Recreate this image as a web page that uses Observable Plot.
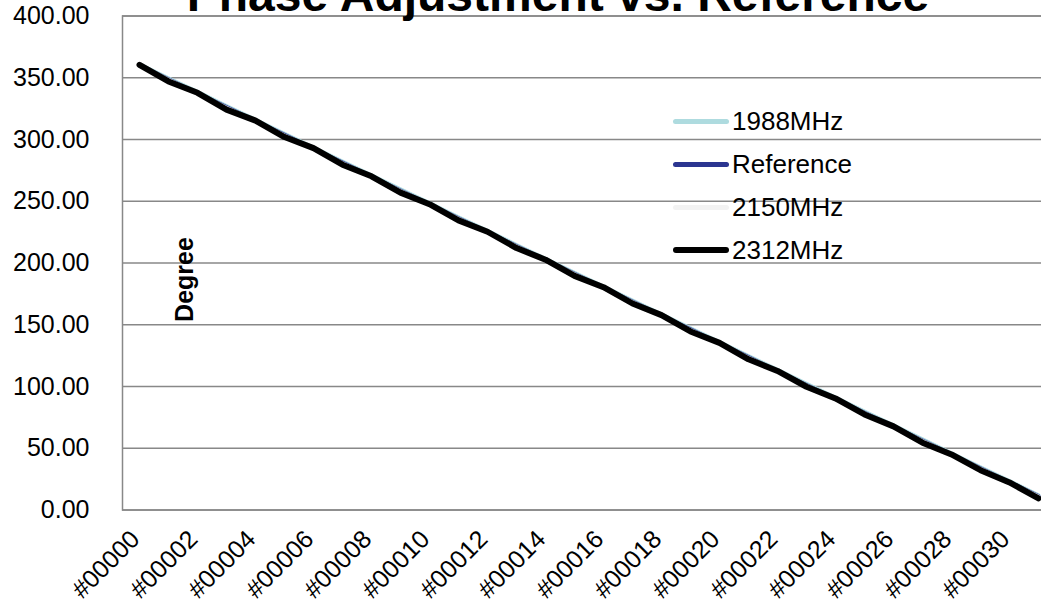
<!DOCTYPE html>
<html>
<head>
<meta charset="utf-8">
<script src="https://cdn.jsdelivr.net/npm/d3@7"></script>
<script src="https://cdn.jsdelivr.net/npm/@observablehq/plot@0.6"></script>
<style>
  html, body { margin: 0; padding: 0; background: #fff; overflow: hidden; }
  #wrap { position: relative; width: 1041px; height: 609px; }
  #legend { position: absolute; left: 673px; top: 99.5px; font-family: "Liberation Sans", Arial, sans-serif; font-size: 26px; color: #000; }
  .row { display: flex; align-items: center; height: 43px; }
  .sw { width: 56px; border-radius: 3px; }
  .lab { margin-left: 3px; line-height: 1; }
</style>
</head>
<body>
<div id="wrap"></div>
<script>
const categories = ["#00000","#00001","#00002","#00003","#00004","#00005","#00006","#00007","#00008","#00009",
  "#00010","#00011","#00012","#00013","#00014","#00015","#00016","#00017","#00018","#00019",
  "#00020","#00021","#00022","#00023","#00024","#00025","#00026","#00027","#00028","#00029",
  "#00030","#00031"];
const tickLabels = ["#00000","#00002","#00004","#00006","#00008","#00010","#00012","#00014","#00016","#00018",
  "#00020","#00022","#00024","#00026","#00028","#00030"];
const yTicks = [0, 50, 100, 150, 200, 250, 300, 350, 400];

const series = ["1988MHz", "Reference", "2150MHz", "2312MHz"];
const colors = ["#AEDBDF", "#2B3590", "#F2F2F2", "#000000"];
const widths = [4, 4, 4, 6];

const v1988 = [360.8, 349.5, 338.6, 327.0, 316.0, 304.6, 293.5, 282.2, 271.0, 259.6, 248.5, 237.1, 226.0, 214.6, 203.4, 192.1,
  181.0, 169.6, 158.5, 147.2, 136.0, 124.6, 113.5, 102.2, 91.0, 79.7, 68.5, 57.2, 46.0, 34.6, 23.4, 12.0];
const vRef = [360.00, 348.75, 337.50, 326.25, 315.00, 303.75, 292.50, 281.25, 270.00, 258.75, 247.50, 236.25, 225.00, 213.75, 202.50, 191.25,
  180.00, 168.75, 157.50, 146.25, 135.00, 123.75, 112.50, 101.25, 90.00, 78.75, 67.50, 56.25, 45.00, 33.75, 22.50, 11.25];
const v2150 = [360.2, 348.4, 337.2, 325.6, 314.8, 303.2, 292.3, 280.8, 269.8, 258.3, 247.3, 235.8, 224.8, 213.3, 202.3, 190.8,
  179.8, 168.3, 157.3, 145.8, 134.8, 123.3, 112.3, 100.8, 89.8, 78.3, 67.3, 55.8, 44.8, 33.3, 22.3, 10.8];
const v2312 = [360.5, 347.0, 337.8, 324.2, 315.3, 302.0, 293.0, 279.6, 270.2, 257.0, 247.6, 234.5, 225.3, 212.1, 202.7, 189.6,
  180.4, 167.2, 157.8, 144.6, 135.3, 122.0, 112.6, 99.8, 90.3, 77.4, 67.7, 54.5, 45.0, 32.2, 22.3, 9.5];
const values = [v1988, vRef, v2150, v2312];

const FONT = '"Liberation Sans", Arial, sans-serif';

const lineMarks = series.map((s, k) => Plot.line(
  categories.map((c, i) => ({cat: c, value: values[k][i], series: s})),
  {x: "cat", y: "value", stroke: colors[k], strokeWidth: widths[k], strokeLinejoin: "round", strokeLinecap: "round"}
));

const chart = Plot.plot({
  width: 1041,
  height: 609,
  marginLeft: 122,
  marginRight: -14,
  marginTop: 15.5,
  marginBottom: 99.5,
  style: {fontFamily: FONT, color: "#000", background: "#fff"},
  x: {type: "point", domain: categories, padding: 0.5},
  y: {domain: [0, 400]},
  marks: [
    Plot.gridY(yTicks, {stroke: "#888", strokeOpacity: 1, strokeWidth: 1.5}),
    Plot.frame({stroke: "#888", strokeWidth: 1.5}),
    Plot.axisY(yTicks, {tickSize: 0, tickPadding: 33, fontSize: 25, tickFormat: d3.format(".2f"), label: null}),
    Plot.axisX(tickLabels, {tickSize: 0, tickPadding: 25, dx: -4, tickRotate: -45, fontSize: 25, label: null}),
    ...lineMarks,
    Plot.text(["Degree"], {text: d => d, frameAnchor: "left", textAnchor: "middle", lineAnchor: "middle", rotate: -90, dx: 62, dy: 16.5, fontSize: 25, fontWeight: "bold", fill: "#000"}),
    Plot.text(["Phase Adjustment vs. Reference"], {text: d => d, frameAnchor: "top", textAnchor: "middle", lineAnchor: "middle", dx: -31, dy: -20, fontSize: 48, fontWeight: "bold", fill: "#000"})
  ]
});

const wrap = document.getElementById("wrap");
wrap.appendChild(chart);

const legend = document.createElement("div");
legend.id = "legend";
series.forEach((s, k) => {
  const row = document.createElement("div");
  row.className = "row";
  const sw = document.createElement("span");
  sw.className = "sw";
  sw.style.height = (k === 3 ? 6 : 5) + "px";
  sw.style.background = colors[k];
  const lab = document.createElement("span");
  lab.className = "lab";
  lab.textContent = s;
  row.appendChild(sw);
  row.appendChild(lab);
  legend.appendChild(row);
});
wrap.appendChild(legend);
</script>
</body>
</html>
